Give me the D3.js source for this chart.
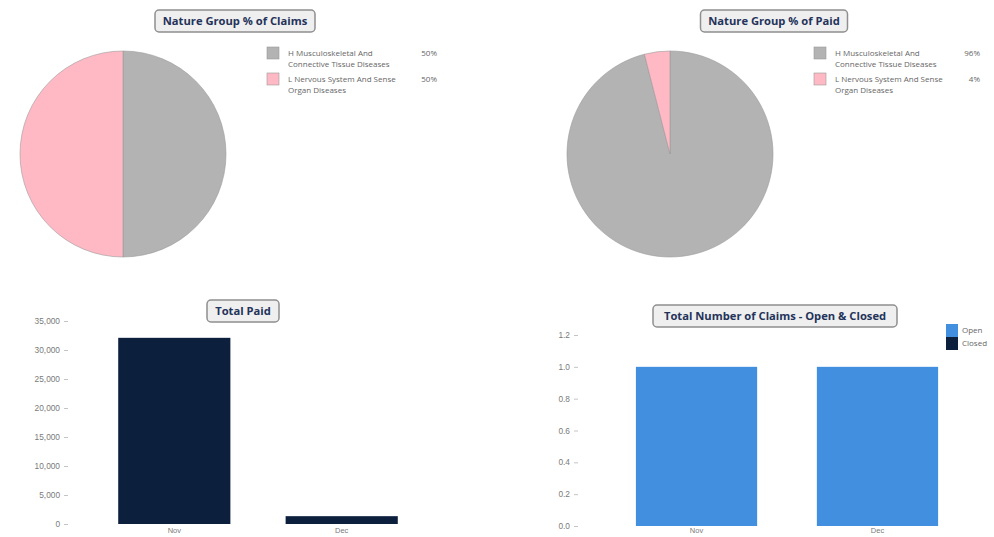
<!DOCTYPE html>
<html>
<head>
<meta charset="utf-8">
<script src="https://cdn.jsdelivr.net/npm/d3@7"></script>
<style>
  body { margin: 0; background: #fff; }
  svg { display: block; font-family: "Open Sans", sans-serif; }
  .tick text { fill: #7a7a7a; font-size: 8.3px; }
  .tick line { stroke: #c4c4c4; }
  .domain { display: none; }
  .xax .tick text { font-size: 7.5px; }
</style>
</head>
<body>
<svg id="chart" width="994" height="537"></svg>
<script>
// nature groups (legend labels, two lines each)
const natureGroups = [
  ["H Musculoskeletal And", "Connective Tissue Diseases"],
  ["L Nervous System And Sense", "Organ Diseases"]
];
const claimsShare = [50, 50];
const paidShare = [96, 4];

const months = ["Nov", "Dec"];
const totalPaid = [32100, 1350];
const paidTicks = [0, 5000, 10000, 15000, 20000, 25000, 30000, 35000];

const claimStatus = ["Open", "Closed"];
const openClaims = [1, 1];
const closedClaims = [0, 0];
const claimTicks = [0, 0.2, 0.4, 0.6, 0.8, 1.0, 1.2];

const pieColors = ["#b3b3b3", "#ffb9c4"];
const navy = "#0c1f3d";
const blue = "#418fde";

const svg = d3.select("#chart");

function titleBox(cx, cy, w, text) {
  const g = svg.append("g");
  g.append("rect")
      .attr("x", cx - w / 2).attr("y", cy - 11)
      .attr("width", w).attr("height", 22)
      .attr("rx", 4)
      .attr("fill", "#efefef")
      .attr("stroke", "#8f8f8f")
      .attr("stroke-width", 1.5);
  g.append("text")
      .attr("x", cx).attr("y", cy + 4)
      .attr("text-anchor", "middle")
      .attr("font-size", 11.2)
      .attr("font-weight", "bold")
      .attr("fill", "#24335a")
      .text(text);
}

function pieChart(cx, cy, r, values, legendX, pctX) {
  const arcs = d3.pie().sort(null)(values);
  const arc = d3.arc().innerRadius(0).outerRadius(r);
  svg.append("g")
      .attr("transform", `translate(${cx},${cy})`)
    .selectAll("path")
    .data(arcs)
    .join("path")
      .attr("d", arc)
      .attr("fill", (d, i) => pieColors[i])
      .attr("stroke", "#9a9a9a")
      .attr("stroke-width", 0.6);

  const lg = svg.append("g");
  natureGroups.forEach((lines, i) => {
    const y = 47 + i * 26;
    lg.append("rect")
        .attr("x", legendX).attr("y", y)
        .attr("width", 12).attr("height", 12)
        .attr("fill", pieColors[i])
        .attr("stroke", "#999")
        .attr("stroke-width", 0.6);
    lines.forEach((t, j) => {
      lg.append("text")
          .attr("x", legendX + 21).attr("y", y + 8.5 + j * 11)
          .attr("font-size", 8)
          .attr("fill", "#666")
          .text(t);
    });
    lg.append("text")
        .attr("x", pctX).attr("y", y + 8.5)
        .attr("text-anchor", "end")
        .attr("font-size", 8)
        .attr("fill", "#666")
        .text(values[i] + "%");
  });
}

titleBox(235, 21, 160, "Nature Group % of Claims");
pieChart(123, 154, 103, claimsShare, 267, 437);

titleBox(774, 21, 147, "Nature Group % of Paid");
pieChart(670, 154, 103, paidShare, 814, 980);

// Total Paid
const x1 = d3.scaleBand().domain(months).range([68, 448]).paddingInner(0.33).paddingOuter(0.3);
const y1 = d3.scaleLinear().domain([0, 35000]).range([524, 321]);

svg.append("g")
    .attr("transform", "translate(68,0)")
    .call(d3.axisLeft(y1).tickValues(paidTicks).tickFormat(d3.format(",")).tickSize(4).tickPadding(4));
svg.append("g")
    .attr("class", "xax")
    .attr("transform", "translate(0,524)")
    .call(d3.axisBottom(x1).tickSize(0).tickPadding(4));
svg.append("g")
  .selectAll("rect")
  .data(totalPaid)
  .join("rect")
    .attr("x", (d, i) => x1(months[i]))
    .attr("y", d => y1(d))
    .attr("width", x1.bandwidth())
    .attr("height", d => y1(0) - y1(d))
    .attr("fill", navy);
titleBox(243, 311, 72, "Total Paid");

// Total Number of Claims
const x2 = d3.scaleBand().domain(months).range([578, 996]).paddingInner(0.33).paddingOuter(0.32);
const y2 = d3.scaleLinear().domain([0, 1.2]).range([526, 335]);

svg.append("g")
    .attr("transform", "translate(578,0)")
    .call(d3.axisLeft(y2).tickValues(claimTicks).tickFormat(d3.format(".1f")).tickSize(4).tickPadding(4));
svg.append("g")
    .attr("class", "xax")
    .attr("transform", "translate(0,526)")
    .call(d3.axisBottom(x2).tickSize(0).tickPadding(2));

const stacked = d3.stack().keys([0, 1])(months.map((m, i) => [openClaims[i], closedClaims[i]]));
const statusColors = [blue, navy];
svg.append("g")
  .selectAll("g")
  .data(stacked)
  .join("g")
    .attr("fill", (d, i) => statusColors[i])
  .selectAll("rect")
  .data(d => d)
  .join("rect")
    .attr("x", (d, i) => x2(months[i]))
    .attr("y", d => y2(d[1]))
    .attr("width", x2.bandwidth())
    .attr("height", d => y2(d[0]) - y2(d[1]));
titleBox(775, 316, 244, "Total Number of Claims - Open & Closed");

claimStatus.forEach((s, i) => {
  svg.append("rect")
      .attr("x", 946).attr("y", 324 + i * 13)
      .attr("width", 12).attr("height", 13)
      .attr("fill", statusColors[i]);
  svg.append("text")
      .attr("x", 962).attr("y", 333 + i * 13)
      .attr("font-size", 8)
      .attr("fill", "#666")
      .text(s);
});
</script>
</body>
</html>
